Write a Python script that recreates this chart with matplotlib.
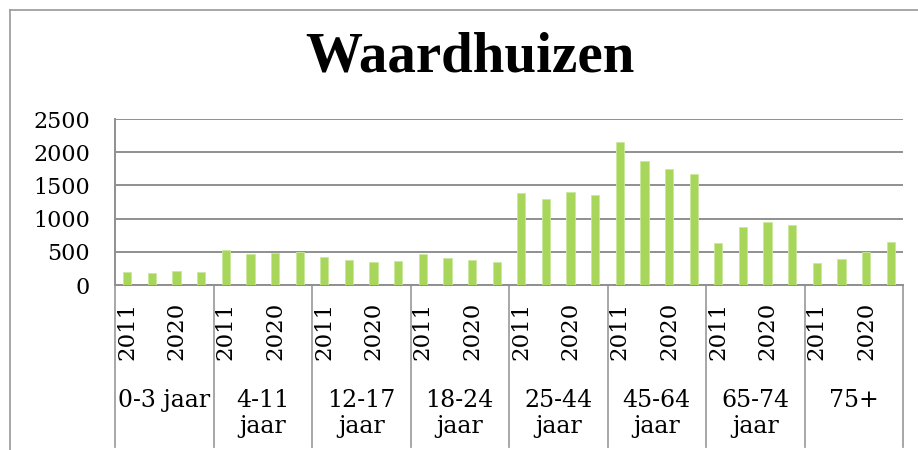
import matplotlib
matplotlib.use("Agg")
import matplotlib.pyplot as plt
from matplotlib.lines import Line2D
import numpy as np

title = "Waardhuizen"
groups = ["0-3 jaar", "4-11\njaar", "12-17\njaar", "18-24\njaar",
          "25-44\njaar", "45-64\njaar", "65-74\njaar", "75+"]
year_labels = ["2011", "", "2020", ""]
values = [
    [200, 185, 205, 200],
    [522, 467, 487, 492],
    [417, 377, 351, 356],
    [462, 407, 377, 346],
    [1381, 1300, 1396, 1355],
    [2149, 1862, 1747, 1667],
    [628, 873, 949, 904],
    [331, 392, 497, 643],
]
yticks = [0, 500, 1000, 1500, 2000, 2500]

bar_color = "#a8d65a"
grid_color = "#8f8f8f"
serif = "DejaVu Serif"

fig = plt.figure(figsize=(9.18, 4.5), dpi=100)
W, H = 918, 450
L, R, T, B = 115, 903, 119, 285
ax = fig.add_axes([L / W, 1 - B / H, (R - L) / W, (B - T) / H])

n_per = len(values[0])
flat = [v for g in values for v in g]
x = np.arange(len(flat))
ax.bar(x, flat, width=0.33, color=bar_color, edgecolor="#c9e89c", linewidth=0.6, zorder=3)

ax.set_xlim(-0.5, len(flat) - 0.5)
ax.set_ylim(0, 2500)
ax.set_yticks(yticks)
ax.set_yticklabels([str(t) for t in yticks], fontfamily=serif, fontsize=16)
ax.yaxis.grid(True, color=grid_color, linewidth=1.4, zorder=0)
ax.set_axisbelow(True)
ax.tick_params(axis="y", length=0, pad=18)

ticks = []
tlabels = []
for gi in range(len(values)):
    for bi in range(n_per):
        if year_labels[bi]:
            ticks.append(gi * n_per + bi)
            tlabels.append(year_labels[bi])
ax.set_xticks(ticks)
ax.set_xticklabels(tlabels, rotation=90, fontfamily=serif, fontsize=16.5, va="top")
ax.tick_params(axis="x", length=0, pad=12)

for s in ["top", "right"]:
    ax.spines[s].set_visible(False)
ax.spines["left"].set_color(grid_color)
ax.spines["left"].set_linewidth(1.4)
ax.spines["bottom"].set_color(grid_color)
ax.spines["bottom"].set_linewidth(1.4)

trans = ax.get_xaxis_transform()
ybot = (B - 447) / (B - T)
for gi in range(len(values) + 1):
    xs = gi * n_per - 0.5
    ax.plot([xs, xs], [0, ybot], transform=trans, color="#a0a0a0",
            linewidth=1.3, clip_on=False, zorder=1)

ytxt = (B - 389) / (B - T)
for gi, g in enumerate(groups):
    xc = gi * n_per + (n_per - 1) / 2
    ax.text(xc, ytxt, g, transform=trans, ha="center", va="top",
            fontfamily=serif, fontsize=17, linespacing=1.15, multialignment="center")

fig.text(470 / W, 1 - 57 / H, title, ha="center", va="center",
         fontfamily="Liberation Serif", fontweight="bold", fontsize=41)

fig.add_artist(Line2D([10 / W, 10 / W], [0, 1 - 10 / H], transform=fig.transFigure,
                      color="#a0a0a0", linewidth=1.3))
fig.add_artist(Line2D([10 / W, 1], [1 - 10 / H, 1 - 10 / H], transform=fig.transFigure,
                      color="#a0a0a0", linewidth=1.3))

fig.savefig("out.png", dpi=100)
